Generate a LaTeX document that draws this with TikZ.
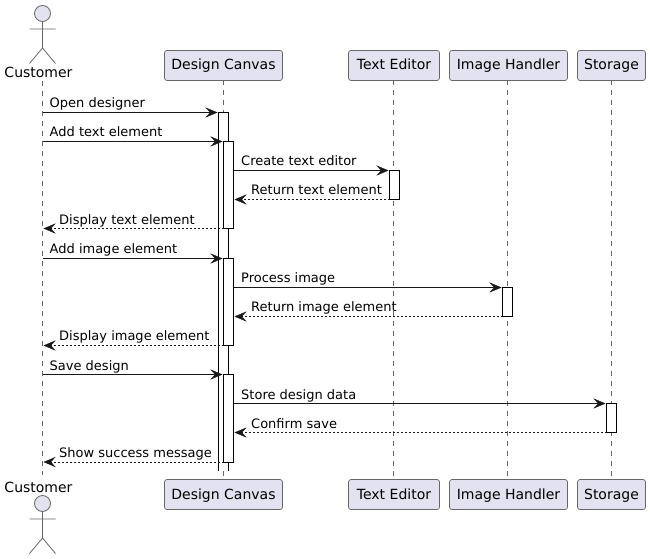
\documentclass[tikz,border=0pt]{standalone}
\usepackage{fontspec}
\setmainfont{DejaVu Sans}
\usetikzlibrary{arrows.meta}
\definecolor{partfill}{HTML}{E2E2F0}
\definecolor{ink}{HTML}{181818}
\definecolor{soft}{HTML}{666666}
\tikzset{
  x=1pt,y=-1pt,
  every node/.style={font=\fontsize{13}{15}\selectfont,text=black},
  big/.style={font=\fontsize{14}{16}\selectfont},
  part/.style={big,draw=soft,line width=0.7pt,fill=partfill,rounded corners=2.5pt,minimum height=30pt,text height=9pt,text depth=0pt,inner xsep=0pt,inner ysep=0pt,outer sep=0pt},
  life/.style={draw=soft,line width=0.6pt,dash pattern=on 5pt off 5pt},
  act/.style={draw=black,line width=1pt,fill=white,minimum width=10pt,inner sep=0pt,outer sep=0pt,anchor=north},
  tip/.style={-{Stealth[length=12pt,width=10pt,inset=4.5pt,fill=ink,line width=0.3pt]}},
  msg/.style={draw=ink,line width=1pt,tip,shorten >=1pt},
  ret/.style={draw=ink,line width=0.8pt,dash pattern=on 2pt off 2pt,tip,shorten >=1pt},
  lab/.style={anchor=base west,inner sep=0pt},
  stick/.style={draw=soft,line width=0.8pt},
  head/.style={circle,draw=soft,line width=0.8pt,fill=partfill,minimum size=16pt,inner sep=0pt,outer sep=0pt},
}
\begin{document}
\begin{tikzpicture}
\useasboundingbox (0,0) rectangle (650,559);
% participants
\node[part,minimum width=118pt] (dc) at (223.5,65.5) {Design Canvas};
\node[part,minimum width=91pt] (te) at (394,65.5) {Text Editor};
\node[part,minimum width=118pt] (ih) at (508.5,65.5) {Image Handler};
\node[part,minimum width=68pt] (st) at (611.5,65.5) {Storage};
\node[part,minimum width=118pt] (dcb) at (223.5,494.5) {Design Canvas};
\node[part,minimum width=91pt] (teb) at (394,494.5) {Text Editor};
\node[part,minimum width=118pt] (ihb) at (508.5,494.5) {Image Handler};
\node[part,minimum width=68pt] (stb) at (611.5,494.5) {Storage};
% actors
\node[head] (cuh) at (42.5,13.5) {};
\node[big,anchor=base,inner sep=0pt] (cut) at (38.5,78) {Customer};
\node[head] (cuhb) at (42.5,503.5) {};
\node[big,anchor=base,inner sep=0pt] (cutb) at (38.5,492) {Customer};
\coordinate (cua) at (42.5,81);
\coordinate (cuz) at (42.5,475);
\draw[stick] (cuh.south) -- (42.5,48) (29.5,29) -- (55.5,29) (29.5,63.5) -- (42.5,48) -- (55.5,63.5);
\draw[stick] (cuhb.south) -- (42.5,538) (29.5,519) -- (55.5,519) (29.5,553.5) -- (42.5,538) -- (55.5,553.5);
% lifelines
\draw[life] (cua) -- (cuz);
\draw[life] (dc.south) -- (dcb.north);
\draw[life] (393.5,80.5) -- (393.5,479.5);
\draw[life] (507.5,80.5) -- (507.5,479.5);
\draw[life] (st.south) -- (stb.north);
% activations
\node[act,fill=white,draw=none,minimum height=358.5pt] (a0) at (223.5,112.5) {};
\draw[black,line width=1pt] (a0.south west) -- (a0.north west) -- (a0.north east) -- (a0.south east);
\node[act,minimum height=87pt] (a1) at (228.5,141.5) {};
\node[act,minimum height=87pt] (a2) at (228.5,258.5) {};
\node[act,minimum height=87.5pt] (a3) at (228.5,374.5) {};
\node[act,minimum height=29pt] (t1) at (394.5,170.5) {};
\node[act,minimum height=29pt] (i1) at (507.5,287.5) {};
\node[act,minimum height=29pt] (s1) at (611.5,403.5) {};
% customer anchors
\coordinate (c1) at (42.5,112.5);
\coordinate (c2) at (42.5,141.5);
\coordinate (c3) at (42.5,228.5);
\coordinate (c4) at (42.5,258.5);
\coordinate (c5) at (42.5,345.5);
\coordinate (c6) at (42.5,374.5);
\coordinate (c7) at (42.5,462);
% messages
\draw[msg] (c1) -- (c1 -| a0.west);
\draw[msg] (c2) -- (c2 -| a1.west);
\draw[msg] (a1.east |- t1.north) -- (t1.north west);
\draw[ret] (t1.south west) -- (a1.east |- t1.south);
\draw[ret] (a1.south west) -- (c3);
\draw[msg] (c4) -- (c4 -| a2.west);
\draw[msg] (a2.east |- i1.north) -- (i1.north west);
\draw[ret] (i1.south west) -- (a2.east |- i1.south);
\draw[ret] (a2.south west) -- (c5);
\draw[msg] (c6) -- (c6 -| a3.west);
\draw[msg] (a3.east |- s1.north) -- (s1.north west);
\draw[ret] (s1.south west) -- (a3.east |- s1.south);
\draw[ret] (a3.south west) -- (c7);
% labels
\node[lab] (l1) at (49.5,107.5) {Open designer};
\node[lab] (l2) at (49.5,136.5) {Add text element};
\node[lab] (l3) at (241,165.5) {Create text editor};
\node[lab] (l4) at (251,194.5) {Return text element};
\node[lab] (l5) at (59,224) {Display text element};
\node[lab] (l6) at (49.5,253.5) {Add image element};
\node[lab] (l7) at (241,282.5) {Process image};
\node[lab] (l8) at (251,311.5) {Return image element};
\node[lab] (l9) at (59,340.5) {Display image element};
\node[lab] (l10) at (49.5,370) {Save design};
\node[lab] (l11) at (241,399) {Store design data};
\node[lab] (l12) at (251,428) {Confirm save};
\node[lab] (l13) at (59,457.5) {Show success message};
\end{tikzpicture}
\end{document}
